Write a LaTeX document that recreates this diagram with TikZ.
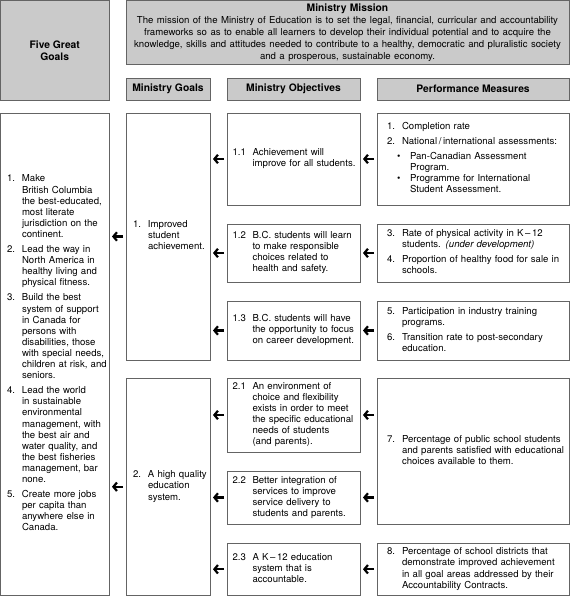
\documentclass[tikz,border=0pt]{standalone}
\usepackage{fontspec}
\setmainfont{TeX Gyre Heros}
\usetikzlibrary{positioning,arrows.meta}
\definecolor{cajagris}{RGB}{202,202,202}
\definecolor{bordegris}{RGB}{100,100,100}

\begin{document}
\begin{tikzpicture}[x=1pt, y=1pt,
        every node/.style={font=\fontsize{9.6}{11.1}\selectfont, inner ysep=0pt, outer sep=0pt},
        caja/.style={draw=bordegris, line width=0.7pt, fill=white, anchor=north west, align=left},
        gris/.style={caja, fill=cajagris, inner sep=0pt, align=center, font=\fontsize{10.3}{12}\selectfont\bfseries},
        colcinco/.style={caja, inner xsep=6.5pt, text width=95.5pt},
        colmeta/.style={caja, inner xsep=7pt, text width=70pt},
        colobj/.style={caja, inner xsep=5.5pt, text width=122pt},
        colmed/.style={caja, inner xsep=10pt, text width=172pt},
        flecha/.style={-{Straight Barb[length=3.5pt,width=8.5pt]}, line width=2.2pt, shorten <=3pt, shorten >=3pt}
    ]
    \useasboundingbox (0,0) rectangle (570,-596);

    % cabeceras
    \node (cinco) [gris, minimum width=108.5pt, minimum height=99.5pt] at (0.5,-0.5) {Five Great\\Goals};
    \node (mision) [gris, minimum width=443pt, minimum height=64pt, text width=437pt] at (126,-0.5)
        {Ministry Mission\\[0.5pt]
         {\mdseries\fontsize{9.6}{11.8}\selectfont The mission of the Ministry of Education is to set the legal, financial, curricular and accountability\\
         frameworks so as to enable all learners to develop their individual potential and to acquire the\\
         knowledge, skills and attitudes needed to contribute to a healthy, democratic and pluralistic society\\
         and a prosperous, sustainable economy.}};
    \node (hmeta) [gris, minimum width=84pt, minimum height=22pt] at (126,-78) {Ministry Goals};
    \node (hobj) [gris, minimum width=133pt, minimum height=22pt] at (227,-78) {Ministry Objectives};
    \node (hmed) [gris, minimum width=192pt, minimum height=22pt] at (377,-78) {Performance Measures};

    % cinco metas
    \node (metas) [colcinco, minimum height=482.5pt] at (0.5,-113) {%
        \begin{tabular}{@{}p{15pt}@{}l@{}}
        1. & Make\\
           & British Columbia\\
           & the best-educated,\\
           & most literate\\
           & jurisdiction on the\\
           & continent.\\[4pt]
        2. & Lead the way in\\
           & North America in\\
           & healthy living and\\
           & physical fitness.\\[4pt]
        3. & Build the best\\
           & system of support\\
           & in Canada for\\
           & persons with\\
           & disabilities, those\\
           & with special needs,\\
           & children at risk, and\\
           & seniors.\\[4pt]
        4. & Lead the world\\
           & in sustainable\\
           & environmental\\
           & management, with\\
           & the best air and\\
           & water quality, and\\
           & the best fisheries\\
           & management, bar\\
           & none.\\[4pt]
        5. & Create more jobs\\
           & per capita than\\
           & anywhere else in\\
           & Canada.
        \end{tabular}};

    % metas del ministerio
    \node (g1) [colmeta, minimum height=247pt] at (126,-113) {%
        \begin{tabular}{@{}p{15pt}@{}l@{}}
        1. & Improved\\ & student\\ & achievement.
        \end{tabular}};
    \node (g2) [colmeta, minimum height=217.5pt, below=18pt of g1] {%
        \begin{tabular}{@{}p{15pt}@{}l@{}}
        2. & A high quality\\ & education\\ & system.
        \end{tabular}};

    % objetivos
    \node (o11) [colobj, minimum height=92pt] at (227,-113) {%
        \begin{tabular}{@{}p{20pt}@{}l@{}}
        1.1 & Achievement will\\ & improve for all students.
        \end{tabular}};
    \node (o12) [colobj, minimum height=58pt, below=19pt of o11] {%
        \begin{tabular}{@{}p{20pt}@{}l@{}}
        1.2 & B.C. students will learn\\ & to make responsible\\ & choices related to\\ & health and safety.
        \end{tabular}};
    \node (o13) [colobj, minimum height=59pt, below=19pt of o12] {%
        \begin{tabular}{@{}p{20pt}@{}l@{}}
        1.3 & B.C. students will have\\ & the opportunity to focus\\ & on career development.
        \end{tabular}};
    \node (o21) [colobj, minimum height=74pt, below=18pt of o13] {%
        \begin{tabular}{@{}p{20pt}@{}l@{}}
        2.1 & An environment of\\ & choice and flexibility\\ & exists in order to meet\\
            & the specific educational\\ & needs of students\\ & (and parents).
        \end{tabular}};
    \node (o22) [colobj, minimum height=53pt, below=19pt of o21] {%
        \begin{tabular}{@{}p{20pt}@{}l@{}}
        2.2 & Better integration of\\ & services to improve\\ & service delivery to\\ & students and parents.
        \end{tabular}};
    \node (o23) [colobj, minimum height=52.5pt, below=19pt of o22] {%
        \begin{tabular}{@{}p{20pt}@{}l@{}}
        2.3 & A K\,\textendash\,12 education\\ & system that is\\ & accountable.
        \end{tabular}};

    % medidas
    \node (m1) [colmed, minimum height=92pt] at (377,-113) {%
        \begin{tabular}{@{}p{15pt}@{}l@{}}
        1. & Completion rate\\[4pt]
        2. & National\,/\,international assessments:\\[4pt]
           & \hspace{-5pt}\begin{tabular}[t]{@{}p{13pt}@{}l@{}}\textbullet & Pan-Canadian Assessment\\ & Program.\end{tabular}\\[4pt]
           & \hspace{-5pt}\begin{tabular}[t]{@{}p{13pt}@{}l@{}}\textbullet & Programme for International\\ & Student Assessment.\end{tabular}
        \end{tabular}};
    \node (m2) [colmed, minimum height=58pt, below=19pt of m1] {%
        \begin{tabular}{@{}p{15pt}@{}l@{}}
        3. & Rate of physical activity in K\,\textendash\,12\\ & students. \textit{(under development)}\\[4pt]
        4. & Proportion of healthy food for sale in\\ & schools.
        \end{tabular}};
    \node (m3) [colmed, minimum height=59pt, below=19pt of m2] {%
        \begin{tabular}{@{}p{15pt}@{}l@{}}
        5. & Participation in industry training\\ & programs.\\[4pt]
        6. & Transition rate to post-secondary\\ & education.
        \end{tabular}};
    \node (m4) [colmed, minimum height=146pt, below=18pt of m3] {%
        \begin{tabular}{@{}p{15pt}@{}l@{}}
        7. & Percentage of public school students\\ & and parents satisfied with educational\\ & choices available to them.
        \end{tabular}};
    \node (m5) [colmed, minimum height=52.5pt, below=19pt of m4] {%
        \begin{tabular}{@{}p{15pt}@{}l@{}}
        8. & Percentage of school districts that\\ & demonstrate improved achievement\\
           & in all goal areas addressed by their\\ & Accountability Contracts.
        \end{tabular}};

    % flechas
    \draw [flecha] (g1.west) -- (g1.west -| metas.east);
    \draw [flecha] (g2.west) -- (g2.west -| metas.east);
    \foreach \o in {o11,o12,o13}
        \draw [flecha] (\o.west) -- (\o.west -| g1.east);
    \foreach \o in {o21,o22,o23}
        \draw [flecha] (\o.west) -- (\o.west -| g2.east);
    \draw [flecha] (m1.west) -- (o11.east);
    \draw [flecha] (m2.west) -- (o12.east);
    \draw [flecha] (m3.west) -- (o13.east);
    \draw [flecha] (m4.west |- o21.east) -- (o21.east);
    \draw [flecha] (m4.west |- o22.east) -- (o22.east);
    \draw [flecha] (m5.west) -- (o23.east);
\end{tikzpicture}
\end{document}
